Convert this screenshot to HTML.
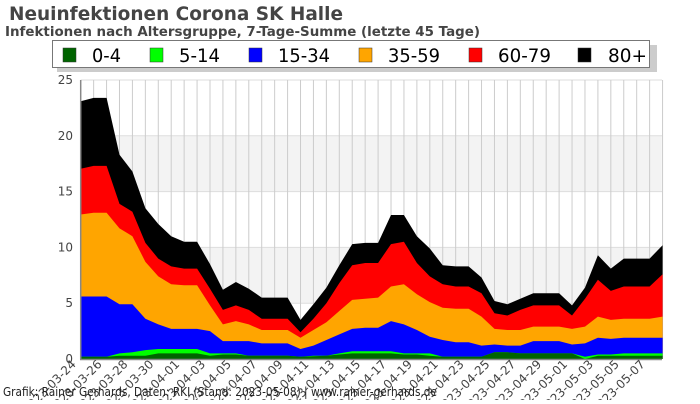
<!DOCTYPE html>
<html><head><meta charset="utf-8"><style>
body{margin:0;background:#fff;width:700px;height:400px;overflow:hidden;font-family:"DejaVu Sans","Liberation Sans",sans-serif}
</style></head><body>
<svg id="s" width="700" height="400" xmlns="http://www.w3.org/2000/svg" font-family="DejaVu Sans, Liberation Sans, sans-serif">
<rect x="80.7" y="80" width="581" height="279" fill="#fff"/>
<rect x="80.7" y="136" width="581" height="56" fill="#f3f3f3"/>
<rect x="80.7" y="247" width="581" height="56" fill="#f3f3f3"/>
<g id="grid"></g>
<g id="areas"></g>
<line x1="80.7" y1="80" x2="80.7" y2="359.5" stroke="#888" stroke-width="1.5"/>
<line x1="80" y1="359.5" x2="662" y2="359.5" stroke="#888" stroke-width="1.5"/>
<g id="ylab" font-size="12" fill="#444" text-anchor="end"></g>
<g id="xlab" font-size="12" fill="#444" text-anchor="end"></g>
<text x="9" y="20" font-size="19" font-weight="bold" fill="#444" textLength="334" lengthAdjust="spacingAndGlyphs">Neuinfektionen Corona SK Halle</text>
<text x="5" y="36" font-size="13" font-weight="bold" fill="#444" textLength="475" lengthAdjust="spacingAndGlyphs">Infektionen nach Altersgruppe, 7-Tage-Summe (letzte 45 Tage)</text>
<rect x="57" y="45" width="600" height="27" fill="#ccc"/>
<rect x="52.5" y="40.5" width="597" height="27" fill="#fff" stroke="#777" stroke-width="1"/>
<g font-size="19" fill="#000">
<rect x="63" y="48" width="13" height="14" fill="#006400" stroke="#333" stroke-width=".5"/><text x="92" y="62" textLength="29" lengthAdjust="spacingAndGlyphs">0-4</text>
<rect x="150" y="48" width="13" height="14" fill="#00ff00" stroke="#333" stroke-width=".5"/><text x="179" y="62" textLength="41" lengthAdjust="spacingAndGlyphs">5-14</text>
<rect x="249" y="48" width="13" height="14" fill="#0000ff" stroke="#333" stroke-width=".5"/><text x="278" y="62" textLength="52" lengthAdjust="spacingAndGlyphs">15-34</text>
<rect x="359" y="48" width="13" height="14" fill="#ffa500" stroke="#333" stroke-width=".5"/><text x="388" y="62" textLength="52" lengthAdjust="spacingAndGlyphs">35-59</text>
<rect x="469" y="48" width="13" height="14" fill="#ff0000" stroke="#333" stroke-width=".5"/><text x="498" y="62" textLength="53" lengthAdjust="spacingAndGlyphs">60-79</text>
<rect x="578" y="48" width="13" height="14" fill="#000" stroke="#333" stroke-width=".5"/><text x="608" y="62" textLength="39" lengthAdjust="spacingAndGlyphs">80+</text>
</g>
<g id="foot"></g>
</svg>
<script>
var D=[[.2,.2,5.6,12.95,17.05,23.1],[.2,.2,5.6,13.1,17.3,23.4],[.2,.2,5.6,13.1,17.3,23.4],[.3,.5,4.9,11.7,13.9,18.3],[.3,.6,4.9,11,13.2,16.8],[.3,.8,3.6,8.7,10.4,13.5],[.5,.9,3.1,7.4,9,12.1],[.5,.9,2.7,6.7,8.3,11],[.5,.9,2.7,6.6,8.1,10.5],[.5,.9,2.7,6.6,8.1,10.5],[.3,.5,2.5,4.8,6.3,8.5],[.4,.5,1.6,3.1,4.4,6.2],[.4,.5,1.6,3.4,4.8,6.9],[.3,.3,1.6,3.1,4.4,6.3],[.3,.3,1.4,2.6,3.6,5.5],[.3,.3,1.4,2.6,3.6,5.5],[.3,.3,1.4,2.6,3.6,5.5],[.2,.2,.9,1.9,2.4,3.5],[.25,.3,1.2,2.6,3.6,4.9],[.3,.3,1.7,3.3,5,6.4],[.4,.5,2.2,4.3,6.8,8.4],[.5,.7,2.7,5.3,8.4,10.3],[.5,.7,2.8,5.4,8.6,10.4],[.5,.7,2.8,5.5,8.6,10.4],[.5,.7,3.4,6.5,10.3,12.9],[.4,.5,3.1,6.7,10.5,12.9],[.4,.5,2.6,5.8,8.6,11],[.3,.5,2,5.1,7.4,9.9],[.2,.2,1.7,4.6,6.7,8.4],[.2,.2,1.5,4.5,6.5,8.3],[.2,.2,1.5,4.5,6.5,8.3],[.2,.2,1.2,3.8,5.9,7.3],[.6,.6,1.3,2.7,4.1,5.2],[.6,.6,1.2,2.6,3.9,4.9],[.5,.5,1.2,2.6,4.4,5.4],[.5,.5,1.6,2.9,4.8,5.9],[.5,.5,1.6,2.9,4.8,5.9],[.5,.5,1.6,2.9,4.8,5.9],[.5,.5,1.3,2.7,3.9,4.8],[0,.2,1.4,2.9,5.4,6.4],[.3,.4,1.9,3.8,7.1,9.3],[.3,.4,1.8,3.5,6.1,8.1],[.3,.5,1.9,3.6,6.5,9],[.3,.5,1.9,3.6,6.5,9],[.3,.5,1.9,3.6,6.5,9],[.3,.5,1.9,3.8,7.6,10.2]];
var C=["#006400","#00ff00","#0000ff","#ffa500","#ff0000","#000000"];
var X=function(i){return 80.7+i*12.93},Y=function(v){return 359-v*11.16};
var g=document.getElementById("grid"),a=document.getElementById("areas");
var h='';
for(var v=5;v<=25;v+=5)h+='<line x1="80.7" x2="662" y1="'+Y(v)+'" y2="'+Y(v)+'" stroke="#ddd"/>';
for(var i=1;i<=45;i++)h+='<line x1="'+X(i)+'" x2="'+X(i)+'" y1="80" y2="359" stroke="#ccc"/>';
g.innerHTML=h;
h='';
for(var k=5;k>=0;k--){var p=[];for(var i=0;i<D.length;i++)p.push(X(i).toFixed(1)+','+Y(D[i][k]).toFixed(1));p.push(X(45)+','+Y(0));p.push(X(0)+','+Y(0));h+='<polygon fill="'+C[k]+'" points="'+p.join(' ')+'"/>';}
a.innerHTML=h;
h='';for(var v=0;v<=25;v+=5)h+='<text x="73" y="'+(Y(v)+4)+'">'+v+'</text>';
document.getElementById("ylab").innerHTML=h;
h='';var d=new Date(Date.UTC(2023,2,24));
for(var i=0;i<=45;i+=2){var dd=new Date(d.getTime()+i*864e5);var s=dd.toISOString().slice(0,10);var x=X(i)-4,y=365;h+='<text x="'+x+'" y="'+y+'" transform="rotate(-45 '+x+' '+y+')">'+s+'</text>';}
document.getElementById("xlab").innerHTML=h;
document.getElementById("foot").innerHTML='<text x="3" y="396" font-size="12" fill="#222" textLength="434" lengthAdjust="spacingAndGlyphs">Grafik: Rainer Gerhards, Daten: RKI (Stand: 2023-05-08) | www.rainer-gerhards.de</text>';
</script>
</body></html>
